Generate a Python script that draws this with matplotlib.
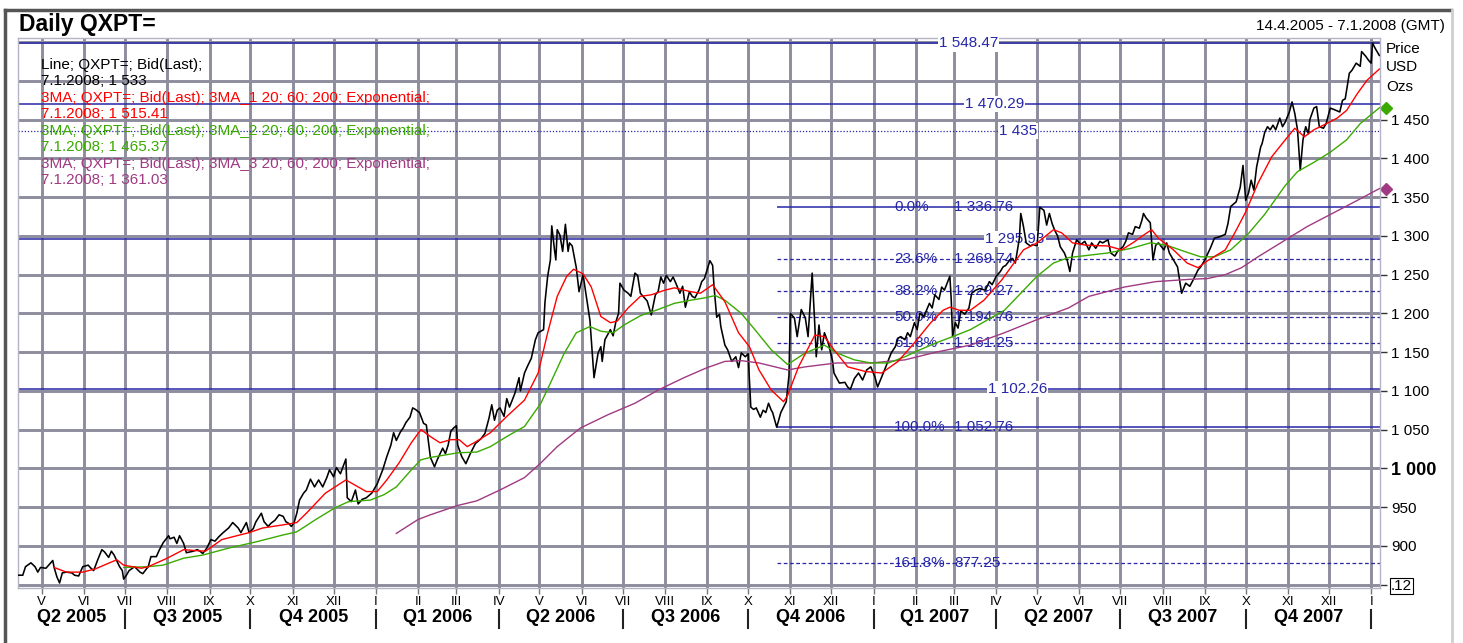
import matplotlib
matplotlib.use("Agg")
import matplotlib.pyplot as plt
from matplotlib.lines import Line2D
from matplotlib.transforms import blended_transform_factory
import pandas as pd

plt.rcParams['font.family'] = ['Liberation Sans', 'DejaVu Sans']

# ---- data ----
price_dates = [
    "2005-04-14", "2005-04-17", "2005-04-19", "2005-04-23", "2005-04-26", "2005-04-28", "2005-04-30",
    "2005-05-04", "2005-05-09", "2005-05-10", "2005-05-12", "2005-05-14", "2005-05-16", "2005-05-19", "2005-05-23", "2005-05-25", "2005-05-28", "2005-05-31",
    "2005-06-04", "2005-06-06", "2005-06-08", "2005-06-11", "2005-06-14", "2005-06-16", "2005-06-19", "2005-06-21", "2005-06-23", "2005-06-27", "2005-06-29", "2005-06-30",
    "2005-07-02", "2005-07-04", "2005-07-08", "2005-07-12", "2005-07-14", "2005-07-18", "2005-07-20", "2005-07-24", "2005-07-26", "2005-07-29",
    "2005-08-02", "2005-08-03", "2005-08-06", "2005-08-08", "2005-08-10", "2005-08-13", "2005-08-15", "2005-08-20", "2005-08-23", "2005-08-25", "2005-08-27", "2005-08-30",
    "2005-09-02", "2005-09-05", "2005-09-08", "2005-09-11", "2005-09-15", "2005-09-18", "2005-09-22", "2005-09-24", "2005-09-28", "2005-09-30",
    "2005-10-03", "2005-10-05", "2005-10-09", "2005-10-11", "2005-10-14", "2005-10-16", "2005-10-19", "2005-10-22", "2005-10-25", "2005-10-27", "2005-10-29", "2005-10-31",
    "2005-11-02", "2005-11-04", "2005-11-06", "2005-11-09", "2005-11-11", "2005-11-14", "2005-11-17", "2005-11-20", "2005-11-23", "2005-11-26", "2005-11-28",
    "2005-12-01", "2005-12-03", "2005-12-06", "2005-12-10", "2005-12-11", "2005-12-14", "2005-12-17", "2005-12-19", "2005-12-22", "2005-12-25", "2005-12-29",
    "2006-01-02", "2006-01-04", "2006-01-06", "2006-01-09", "2006-01-12", "2006-01-14", "2006-01-16", "2006-01-19", "2006-01-21", "2006-01-23", "2006-01-26", "2006-01-28", "2006-01-30",
    "2006-02-02", "2006-02-05", "2006-02-07", "2006-02-10", "2006-02-13", "2006-02-15", "2006-02-19", "2006-02-21", "2006-02-23", "2006-02-25", "2006-02-27",
    "2006-03-01", "2006-03-02", "2006-03-04", "2006-03-05", "2006-03-08", "2006-03-11", "2006-03-15", "2006-03-19", "2006-03-22", "2006-03-25", "2006-03-27", "2006-03-29", "2006-03-31",
    "2006-04-02", "2006-04-05", "2006-04-07", "2006-04-09", "2006-04-13", "2006-04-16", "2006-04-17", "2006-04-20", "2006-04-22", "2006-04-25", "2006-04-28", "2006-04-30",
    "2006-05-04", "2006-05-05", "2006-05-07", "2006-05-09", "2006-05-10", "2006-05-12", "2006-05-13", "2006-05-14", "2006-05-16", "2006-05-18", "2006-05-20", "2006-05-22", "2006-05-23", "2006-05-25", "2006-05-28", "2006-05-30",
    "2006-06-02", "2006-06-04", "2006-06-07", "2006-06-08", "2006-06-10", "2006-06-13", "2006-06-15", "2006-06-16", "2006-06-18", "2006-06-22", "2006-06-24", "2006-06-26", "2006-06-28", "2006-06-29",
    "2006-07-02", "2006-07-05", "2006-07-07", "2006-07-10", "2006-07-12", "2006-07-14", "2006-07-17", "2006-07-19", "2006-07-22", "2006-07-25", "2006-07-27", "2006-07-29", "2006-07-31",
    "2006-08-02", "2006-08-05", "2006-08-07", "2006-08-09", "2006-08-12", "2006-08-14", "2006-08-16", "2006-08-19", "2006-08-21", "2006-08-23", "2006-08-26", "2006-08-28", "2006-08-30",
    "2006-09-03", "2006-09-05", "2006-09-06", "2006-09-08", "2006-09-10", "2006-09-11", "2006-09-14", "2006-09-16", "2006-09-19", "2006-09-22", "2006-09-24", "2006-09-26", "2006-09-29",
    "2006-10-01", "2006-10-03", "2006-10-05", "2006-10-07", "2006-10-10", "2006-10-12", "2006-10-14", "2006-10-16", "2006-10-18", "2006-10-19", "2006-10-22", "2006-10-25", "2006-10-29", "2006-10-31",
    "2006-11-01", "2006-11-04", "2006-11-06", "2006-11-09", "2006-11-12", "2006-11-14", "2006-11-17", "2006-11-19", "2006-11-20", "2006-11-22", "2006-11-24", "2006-11-26", "2006-11-29",
    "2006-12-02", "2006-12-03", "2006-12-07", "2006-12-11", "2006-12-13", "2006-12-15", "2006-12-18", "2006-12-21", "2006-12-24", "2006-12-27", "2006-12-30",
    "2007-01-02", "2007-01-04", "2007-01-07", "2007-01-10", "2007-01-14", "2007-01-17", "2007-01-19", "2007-01-21", "2007-01-24", "2007-01-26", "2007-01-28", "2007-01-31",
    "2007-02-02", "2007-02-04", "2007-02-07", "2007-02-11", "2007-02-13", "2007-02-15", "2007-02-18", "2007-02-20", "2007-02-22", "2007-02-26", "2007-02-27", "2007-02-28",
    "2007-03-02", "2007-03-04", "2007-03-06", "2007-03-09", "2007-03-12", "2007-03-14", "2007-03-17", "2007-03-20", "2007-03-24", "2007-03-27", "2007-03-29",
    "2007-04-01", "2007-04-04", "2007-04-06", "2007-04-08", "2007-04-11", "2007-04-13", "2007-04-15", "2007-04-18", "2007-04-19", "2007-04-21", "2007-04-23", "2007-04-26", "2007-04-28",
    "2007-05-01", "2007-05-03", "2007-05-06", "2007-05-08", "2007-05-10", "2007-05-12", "2007-05-14", "2007-05-16", "2007-05-18", "2007-05-21", "2007-05-23", "2007-05-25", "2007-05-27", "2007-05-30",
    "2007-06-02", "2007-06-05", "2007-06-08", "2007-06-10", "2007-06-13", "2007-06-16", "2007-06-18", "2007-06-22", "2007-06-24", "2007-06-27", "2007-06-29",
    "2007-07-03", "2007-07-05", "2007-07-07", "2007-07-10", "2007-07-12", "2007-07-15", "2007-07-17", "2007-07-18", "2007-07-20", "2007-07-23", "2007-07-25", "2007-07-27", "2007-07-29",
    "2007-08-02", "2007-08-04", "2007-08-06", "2007-08-09", "2007-08-12", "2007-08-14", "2007-08-15", "2007-08-18", "2007-08-21", "2007-08-24", "2007-08-27", "2007-08-29",
    "2007-09-01", "2007-09-05", "2007-09-08", "2007-09-12", "2007-09-16", "2007-09-18", "2007-09-20", "2007-09-24", "2007-09-27", "2007-09-29",
    "2007-10-01", "2007-10-03", "2007-10-05", "2007-10-07", "2007-10-09", "2007-10-12", "2007-10-13", "2007-10-15", "2007-10-17", "2007-10-19", "2007-10-21", "2007-10-23", "2007-10-26", "2007-10-28", "2007-10-30",
    "2007-11-02", "2007-11-04", "2007-11-06", "2007-11-08", "2007-11-10", "2007-11-12", "2007-11-14", "2007-11-16", "2007-11-17", "2007-11-20", "2007-11-22", "2007-11-24", "2007-11-27", "2007-11-29",
    "2007-12-02", "2007-12-05", "2007-12-09", "2007-12-11", "2007-12-13", "2007-12-16", "2007-12-18", "2007-12-21", "2007-12-24", "2007-12-25", "2007-12-28", "2007-12-30",
    "2008-01-01", "2008-01-02", "2008-01-04", "2008-01-07",
]
price_values = [
    862, 862, 873, 878, 873, 866, 872,
    871, 881, 872, 860, 852, 865, 866, 865, 862, 861, 873,
    875, 871, 868, 882, 895, 892, 885, 893, 888, 873, 868, 857,
    862, 868, 873, 866, 864, 873, 886, 886, 894, 904,
    913, 909, 911, 903, 913, 903, 891, 893, 895, 893, 890, 897,
    908, 906, 912, 917, 923, 930, 923, 917, 930, 917,
    922, 931, 942, 931, 925, 929, 933, 940, 938, 931, 929, 925,
    930, 942, 959, 968, 972, 986, 976, 985, 976, 988, 998,
    989, 1001, 993, 1012, 962, 957, 972, 954, 960, 962, 968,
    980, 989, 998, 1015, 1030, 1046, 1036, 1047, 1052, 1059, 1066, 1078, 1076,
    1072, 1058, 1056, 1014, 1002, 1011, 1026, 1019, 1030, 1048, 1052,
    1055, 1030, 1020, 1015, 1006, 1018, 1032, 1038, 1045, 1065, 1082, 1062, 1075,
    1078, 1067, 1090, 1079, 1097, 1117, 1100, 1123, 1131, 1142, 1166, 1175,
    1179, 1214, 1248, 1269, 1313, 1282, 1269, 1308, 1301, 1280, 1315, 1280, 1291, 1287, 1259, 1228,
    1250, 1226, 1191, 1166, 1117, 1149, 1157, 1138, 1166, 1179, 1171, 1189, 1200, 1239,
    1230, 1226, 1222, 1252, 1249, 1226, 1220, 1216, 1198, 1224, 1228, 1247, 1239,
    1249, 1241, 1247, 1239, 1226, 1235, 1208, 1228, 1222, 1220, 1230, 1241, 1245,
    1268, 1262, 1235, 1195, 1199, 1183, 1159, 1153, 1138, 1144, 1130, 1149, 1144,
    1148, 1079, 1076, 1078, 1066, 1075, 1072, 1084, 1075, 1072, 1053, 1072, 1086, 1120,
    1200, 1194, 1170, 1205, 1194, 1170, 1252, 1183, 1144, 1185, 1153, 1175, 1161,
    1138, 1123, 1110, 1111, 1105, 1102, 1116, 1123, 1114, 1127, 1131,
    1118, 1105, 1118, 1131, 1149, 1157, 1168, 1170, 1166, 1175, 1170, 1188,
    1179, 1200, 1196, 1213, 1207, 1224, 1218, 1234, 1230, 1248, 1218, 1170,
    1188, 1181, 1203, 1199, 1207, 1226, 1230, 1232, 1230, 1241, 1237,
    1248, 1254, 1260, 1262, 1269, 1271, 1265, 1297, 1329, 1312, 1291, 1287, 1289,
    1287, 1337, 1333, 1314, 1329, 1316, 1307, 1300, 1286, 1278, 1269, 1254, 1278, 1295,
    1289, 1293, 1282, 1291, 1284, 1293, 1291, 1295, 1278, 1274, 1280,
    1286, 1293, 1304, 1302, 1312, 1310, 1321, 1329, 1323, 1317, 1269, 1288, 1291,
    1282, 1291, 1278, 1269, 1260, 1237, 1226, 1239, 1235, 1245, 1256, 1260,
    1269, 1284, 1297, 1299, 1302, 1316, 1338, 1344, 1363, 1391,
    1346, 1355, 1372, 1359, 1389, 1415, 1419, 1434, 1441, 1437, 1443, 1437, 1452, 1441, 1447,
    1460, 1473, 1458, 1437, 1385, 1424, 1441, 1432, 1450, 1465, 1467, 1441, 1439, 1445,
    1465, 1463, 1460, 1475, 1477, 1510, 1514, 1523, 1519, 1538, 1532, 1527,
    1523, 1549, 1542, 1533,
]

ema20_dates = [
    "2005-05-10", "2005-05-19", "2005-05-31", "2005-06-09", "2005-06-25", "2005-06-30", "2005-07-13", "2005-07-18",
    "2005-08-01", "2005-08-13", "2005-08-20", "2005-08-29", "2005-09-10", "2005-09-30", "2005-10-10", "2005-10-25",
    "2005-11-04", "2005-11-11", "2005-11-25", "2005-12-10", "2005-12-19", "2005-12-25",
    "2006-01-02", "2006-01-09", "2006-01-18", "2006-01-27", "2006-02-03", "2006-02-10", "2006-02-17", "2006-02-25",
    "2006-03-03", "2006-03-09", "2006-03-16", "2006-03-26", "2006-04-07", "2006-04-20", "2006-04-30", "2006-05-07",
    "2006-05-14", "2006-05-21", "2006-05-26", "2006-06-02", "2006-06-08", "2006-06-15", "2006-06-22", "2006-06-27",
    "2006-07-05", "2006-07-14", "2006-07-22", "2006-08-01", "2006-08-08", "2006-08-20", "2006-08-27", "2006-09-05",
    "2006-09-14", "2006-09-24", "2006-10-02", "2006-10-09", "2006-10-18", "2006-10-27", "2006-10-30", "2006-11-07",
    "2006-11-19", "2006-11-26", "2006-12-03", "2006-12-13", "2006-12-26",
    "2007-01-07", "2007-01-19", "2007-01-31", "2007-02-12", "2007-02-21", "2007-02-26", "2007-03-05", "2007-03-13",
    "2007-03-23", "2007-04-05", "2007-04-14", "2007-04-21", "2007-05-01", "2007-05-13", "2007-05-19", "2007-05-27",
    "2007-06-06", "2007-06-22", "2007-07-02", "2007-07-11", "2007-07-18", "2007-07-24", "2007-07-29", "2007-08-09",
    "2007-08-19", "2007-08-27", "2007-09-03", "2007-09-16", "2007-09-23", "2007-10-01", "2007-10-10", "2007-10-20",
    "2007-10-30", "2007-11-06", "2007-11-13", "2007-11-20", "2007-11-27", "2007-12-07", "2007-12-14", "2007-12-22",
    "2007-12-29", "2008-01-07",
]
ema20_values = [
    872, 866, 866, 870, 882, 875, 871, 873,
    884, 895, 894, 893, 908, 917, 923, 927,
    930, 942, 968, 985, 976, 970,
    970, 985, 1007, 1033, 1050, 1041, 1033, 1037,
    1037, 1028, 1035, 1046, 1067, 1088, 1123, 1175,
    1222, 1248, 1257, 1251, 1234, 1196, 1188, 1190,
    1207, 1222, 1224, 1230, 1233, 1228, 1226, 1237,
    1215, 1175, 1157, 1127, 1101, 1086, 1094, 1131,
    1172, 1170, 1153, 1131, 1125,
    1123, 1138, 1162, 1188, 1204, 1208, 1204, 1204,
    1217, 1243, 1265, 1282, 1291, 1308, 1304, 1291,
    1288, 1287, 1282, 1292, 1301, 1308, 1297, 1282,
    1265, 1259, 1268, 1282, 1304, 1331, 1368, 1402,
    1424, 1439, 1428, 1437, 1443, 1452, 1462, 1484,
    1501, 1515.41,
]

ema60_dates = [
    "2005-06-30", "2005-07-18", "2005-07-29", "2005-08-13", "2005-08-27", "2005-09-15", "2005-10-05", "2005-10-25",
    "2005-11-04", "2005-11-18", "2005-12-02", "2005-12-12", "2005-12-28",
    "2006-01-07", "2006-01-16", "2006-01-27", "2006-02-03", "2006-02-10", "2006-03-02", "2006-03-16", "2006-03-26",
    "2006-04-07", "2006-04-20", "2006-05-02", "2006-05-09", "2006-05-19", "2006-05-28", "2006-06-07", "2006-06-15",
    "2006-06-24", "2006-07-02", "2006-07-14", "2006-07-27", "2006-08-08", "2006-08-20", "2006-08-30", "2006-09-07",
    "2006-09-14", "2006-09-26", "2006-10-06", "2006-10-18", "2006-10-30", "2006-11-12", "2006-11-26", "2006-12-05",
    "2006-12-18", "2006-12-30",
    "2007-01-12", "2007-01-24", "2007-02-04", "2007-02-16", "2007-02-28", "2007-03-13", "2007-03-26", "2007-04-07",
    "2007-04-19", "2007-05-01", "2007-05-13", "2007-05-24", "2007-06-22", "2007-07-09", "2007-07-23", "2007-08-04",
    "2007-08-17", "2007-08-29", "2007-09-08", "2007-09-20", "2007-10-03", "2007-10-15", "2007-10-30", "2007-11-08",
    "2007-11-20", "2007-12-02", "2007-12-14", "2007-12-24", "2008-01-07",
]
ema60_values = [
    872, 873, 875, 884, 888, 897, 905, 914,
    918, 934, 949, 957, 959,
    966, 976, 998, 1011, 1014, 1020, 1021, 1028,
    1041, 1054, 1084, 1110, 1148, 1175, 1183, 1177,
    1175, 1185, 1197, 1205, 1213, 1217, 1220, 1223,
    1217, 1200, 1179, 1153, 1134, 1149, 1159, 1149,
    1140, 1136,
    1136, 1144, 1153, 1162, 1170, 1179, 1192, 1204,
    1226, 1248, 1265, 1272, 1278, 1284, 1291, 1288,
    1280, 1273, 1273, 1282, 1303, 1328, 1365, 1383,
    1395, 1408, 1424, 1445, 1465.37,
]

ema200_dates = [
    "2006-01-16", "2006-02-01", "2006-02-10", "2006-03-02", "2006-03-16", "2006-04-02", "2006-04-20", "2006-05-02",
    "2006-05-14", "2006-05-31", "2006-06-20", "2006-07-10", "2006-07-27", "2006-08-15", "2006-09-01", "2006-09-14",
    "2006-09-26", "2006-10-09", "2006-10-23", "2006-10-30", "2006-11-12", "2006-12-05", "2006-12-30",
    "2007-01-24", "2007-02-16", "2007-03-13", "2007-04-07", "2007-05-01", "2007-05-24", "2007-06-08", "2007-07-04",
    "2007-07-27", "2007-08-21", "2007-09-03", "2007-09-16", "2007-09-28", "2007-10-10", "2007-10-22", "2007-11-03",
    "2007-11-15", "2007-11-27", "2007-12-09", "2007-12-22", "2008-01-07",
]
ema200_values = [
    916, 934, 940, 952, 958, 972, 988, 1007,
    1028, 1052, 1069, 1084, 1101, 1117, 1130, 1138,
    1139, 1136, 1130, 1127, 1131, 1136, 1136,
    1140, 1150, 1159, 1175, 1192, 1207, 1222, 1234,
    1241, 1244, 1245, 1250, 1259, 1273, 1286, 1299,
    1312, 1323, 1334, 1346, 1361.03,
]

level_values = [1548.47, 1470.29, 1435.00, 1295.93, 1102.26]
fib_pcts = [0.0, 23.6, 38.2, 50.0, 61.8, 100.0, 161.8]
fib_values = [1336.76, 1269.74, 1229.27, 1194.76, 1161.25, 1052.76, 877.25]
fib_start = "2006-10-22"

y_ticks = [850, 900, 950, 1000, 1050, 1100, 1150, 1200, 1250, 1300, 1350, 1400, 1450]
roman = ["I", "II", "III", "IV", "V", "VI", "VII", "VIII", "IX", "X", "XI", "XII"]


def fmt(v):
    if float(v).is_integer():
        s = f"{int(v):,}"
    else:
        s = f"{v:,.2f}"
    return s.replace(",", " ")


W, H = 1463, 643
BLUE = "#2727a8"
GRID = "#8d8d9d"
RED = "#ff0000"
GREEN = "#3aaa00"
PURPLE = "#a03a82"
FS = 11

fig = plt.figure(figsize=(W / 100, H / 100), dpi=100)
fig.patch.set_facecolor("white")


def fx(px):
    return px / W


def fy(py):
    return 1 - py / H


ax = fig.add_axes([fx(18), fy(588), fx(1380) - fx(18), fy(38) - fy(588)])
x_start = pd.Timestamp("2005-04-13 12:00")
x_end = pd.Timestamp("2008-01-07 12:00")
ax.set_xlim(x_start, x_end)
ax.set_ylim(845.5, 1555.5)

# grid
months = pd.date_range("2005-05-01", "2008-01-01", freq="MS")
for m in months:
    ax.axvline(m, color=GRID, lw=2.1, zorder=0)
for y in range(850, 1551, 50):
    ax.axhline(y, color=GRID, lw=2.1, zorder=0)

# horizontal levels
for v in level_values:
    ls = (0, (1, 1.5)) if v == 1435.00 else "-"
    ax.axhline(v, color=BLUE, lw=1.1 if ls == "-" else 0.9, ls=ls, zorder=1)
level_label_x = {1548.47: "2007-02-18", 1470.29: "2007-03-09", 1435.00: "2007-04-03",
                 1295.93: "2007-03-24", 1102.26: "2007-03-26"}
for v in level_values:
    ax.text(pd.Timestamp(level_label_x[v]), v, fmt(v), color=BLUE, fontsize=FS,
            ha="left", va="center", zorder=3,
            bbox=dict(facecolor="white", edgecolor="none", pad=0.8))

# fibonacci retracement
fs = pd.Timestamp(fib_start)
for p, v in zip(fib_pcts, fib_values):
    ls = "-" if p in (0.0, 100.0) else (0, (3, 2))
    ax.hlines(v, fs, x_end, colors=BLUE, lw=1.1 if ls == "-" else 0.9, linestyles=ls, zorder=1)
    ax.text(pd.Timestamp("2007-01-16"), v, f"{p:.1f}%", color=BLUE, fontsize=FS,
            ha="left", va="center", zorder=3)
    ax.text(pd.Timestamp("2007-03-01"), v, fmt(v), color=BLUE, fontsize=FS,
            ha="left", va="center", zorder=3)

# series
ax.plot(pd.to_datetime(price_dates), price_values, color="black", lw=1.15, zorder=4)
ax.plot(pd.to_datetime(ema200_dates), ema200_values, color=PURPLE, lw=1.0, zorder=5)
ax.plot(pd.to_datetime(ema60_dates), ema60_values, color=GREEN, lw=1.0, zorder=5)
ax.plot(pd.to_datetime(ema20_dates), ema20_values, color=RED, lw=1.0, zorder=5)

# markers at the right edge
trans_r = blended_transform_factory(ax.transAxes, ax.transData)
ax.plot([1.0045], [ema60_values[-1]], marker="D", color=GREEN, ms=6.5, transform=trans_r, clip_on=False)
ax.plot([1.0045], [ema200_values[-1]], marker="D", color=PURPLE, ms=6.5, transform=trans_r, clip_on=False)

# axes styling
for s in ax.spines.values():
    s.set_color("#b4b4c6")
    s.set_linewidth(1.0)
ax.yaxis.tick_right()
ax.set_yticks(y_ticks)
ax.set_yticklabels([".12" if t == 850 else fmt(t) for t in y_ticks])
ax.tick_params(axis="y", direction="out", length=5, width=1, color="#333333",
               labelsize=FS, pad=3)
for lab in ax.get_yticklabels():
    if lab.get_text() == "1 000":
        lab.set_fontweight("bold")
        lab.set_fontsize(13)
    if lab.get_text() == ".12":
        lab.set_bbox(dict(facecolor="white", edgecolor="black", pad=0.8, lw=0.8))

ax.set_xticks(months)
ax.set_xticklabels([roman[m.month - 1] for m in months])
ax.tick_params(axis="x", direction="out", length=4, width=1, color="#777777",
               labelsize=9.5, pad=2)

# quarter labels and separators
trans_b = blended_transform_factory(ax.transData, ax.transAxes)
q_starts = pd.date_range("2005-04-01", "2008-01-01", freq="QS")
for qs in q_starts:
    qe = qs + pd.offsets.QuarterBegin(startingMonth=1)
    if qs >= pd.Timestamp("2008-01-01"):
        continue
    a = max(qs, x_start)
    b = min(qe, x_end)
    mid = a + (b - a) / 2
    ax.text(mid, -0.0545, f"Q{(qs.month - 1) // 3 + 1} {qs.year}", transform=trans_b,
            ha="center", va="center", fontsize=13, fontweight="bold")
for qs in q_starts[1:]:
    ax.plot([qs, qs], [-0.040, -0.073], transform=trans_b, color="#222222", lw=1.5,
            clip_on=False)

# legend text block
legend_lines = [
    ("Line; QXPT=; Bid(Last);", "black"),
    (f"7.1.2008; {fmt(price_values[-1])}", "black"),
    ("3MA; QXPT=; Bid(Last); 3MA_1 20; 60; 200; Exponential;", RED),
    (f"7.1.2008; {fmt(ema20_values[-1])}", RED),
    ("3MA; QXPT=; Bid(Last); 3MA_2 20; 60; 200; Exponential;", GREEN),
    (f"7.1.2008; {fmt(ema60_values[-1])}", GREEN),
    ("3MA; QXPT=; Bid(Last); 3MA_3 20; 60; 200; Exponential;", PURPLE),
    (f"7.1.2008; {fmt(ema200_values[-1])}", PURPLE),
]
legend_y = [65, 81, 98, 114, 131, 147, 164, 180]
for (txt, c), py in zip(legend_lines, legend_y):
    fig.text(fx(41), fy(py), txt, color=c, fontsize=FS, ha="left", va="center")

# titles
fig.text(fx(19), fy(24), "Daily QXPT=", fontsize=16.5, fontweight="bold", ha="left", va="center")
fig.text(fx(1445), fy(26), "14.4.2005 - 7.1.2008 (GMT)", fontsize=11, ha="right", va="center")
for txt, py in zip(["Price", "USD", "Ozs"], [49, 67, 87]):
    fig.text(fx(1386), fy(py), txt, fontsize=FS, ha="left", va="center")

# outer frame
fig.add_artist(Line2D([fx(5), fx(5)], [fy(10), 0], transform=fig.transFigure, color="#555555", lw=2.5))
fig.add_artist(Line2D([fx(5), fx(1451)], [fy(10), fy(10)], transform=fig.transFigure, color="#555555", lw=2.5))
fig.add_artist(Line2D([fx(1452), fx(1452)], [fy(10), 0], transform=fig.transFigure, color="#cfcfcf", lw=2.0))

fig.savefig("out.png", dpi=100)
